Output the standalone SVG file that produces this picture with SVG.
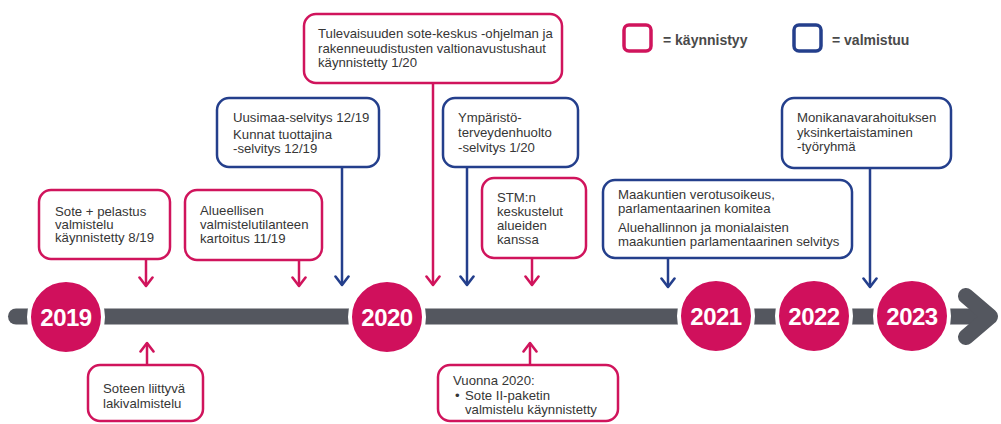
<svg xmlns="http://www.w3.org/2000/svg" width="1001" height="424" viewBox="0 0 1001 424">
<style>
  .bp { fill: #ffffff; stroke: #d0145c; stroke-width: 2.5; }
  .bb { fill: #ffffff; stroke: #243f8c; stroke-width: 2.5; }
  .t { font-family: "Liberation Sans", Arial, sans-serif; font-size: 13.2px; fill: #363636; }
  .yr { font-family: "Liberation Sans", Arial, sans-serif; font-size: 24px; font-weight: bold; fill: #ffffff; text-anchor: middle; letter-spacing: -0.5px; }
  .lg { font-family: "Liberation Sans", Arial, sans-serif; font-size: 14px; font-weight: bold; fill: #4a4a4a; }
  .cp { stroke: #d0145c; stroke-width: 2.5; fill: none; marker-end: url(#ap); }
  .cb { stroke: #243f8c; stroke-width: 2.5; fill: none; marker-end: url(#ab); }
  .yc { fill: #d0105c; stroke: #ffffff; stroke-width: 4; }
</style>
<defs>
  <marker id="ap" viewBox="0 0 12 16" refX="10" refY="8" markerWidth="12" markerHeight="16" markerUnits="userSpaceOnUse" orient="auto">
    <path d="M1.5,1.5 L10,8 L1.5,14.5" fill="none" stroke="#d0145c" stroke-width="2.6" stroke-linecap="round" stroke-linejoin="round"/>
  </marker>
  <marker id="ab" viewBox="0 0 12 16" refX="10" refY="8" markerWidth="12" markerHeight="16" markerUnits="userSpaceOnUse" orient="auto">
    <path d="M1.5,1.5 L10,8 L1.5,14.5" fill="none" stroke="#243f8c" stroke-width="2.6" stroke-linecap="round" stroke-linejoin="round"/>
  </marker>
</defs>
<rect width="1001" height="424" fill="#ffffff"/>

<g id="timeline">
  <line x1="16" y1="316.5" x2="985" y2="316.5" stroke="#54575f" stroke-width="16" stroke-linecap="round"/>
  <polyline points="966,296 990,316.5 966,337" fill="none" stroke="#54575f" stroke-width="16" stroke-linecap="round" stroke-linejoin="round"/>
</g>

<g id="connectors">
  <line class="cp" x1="146" y1="259" x2="146" y2="286"/>
  <line class="cp" x1="299" y1="260" x2="299" y2="286"/>
  <line class="cp" x1="147" y1="365" x2="147" y2="343"/>
  <line class="cb" x1="342" y1="167" x2="342" y2="285"/>
  <line class="cp" x1="433" y1="83" x2="433" y2="285"/>
  <line class="cb" x1="467" y1="167" x2="467" y2="285"/>
  <line class="cp" x1="532" y1="258" x2="532" y2="285"/>
  <line class="cp" x1="530" y1="365" x2="530" y2="343"/>
  <line class="cb" x1="668" y1="258" x2="668" y2="287"/>
  <line class="cb" x1="870" y1="168" x2="870" y2="287"/>
</g>

<g id="y2019"><circle class="yc" cx="66" cy="317" r="37"/><text class="yr" x="66" y="326">2019</text></g>
<g id="y2020"><circle class="yc" cx="387" cy="317" r="37"/><text class="yr" x="387" y="326">2020</text></g>
<g id="y2021"><circle class="yc" cx="716" cy="316" r="37"/><text class="yr" x="716" y="325">2021</text></g>
<g id="y2022"><circle class="yc" cx="814" cy="316" r="37"/><text class="yr" x="814" y="325">2022</text></g>
<g id="y2023"><circle class="yc" cx="912" cy="316" r="37"/><text class="yr" x="912" y="325">2023</text></g>

<g id="legend">
  <rect x="624" y="25" width="27" height="26" rx="5" fill="#ffffff" stroke="#d0145c" stroke-width="3.5"/>
  <text class="lg" x="663" y="45">= käynnistyy</text>
  <rect x="794" y="25" width="27" height="26" rx="5" fill="#ffffff" stroke="#243f8c" stroke-width="3.5"/>
  <text class="lg" x="832" y="45">= valmistuu</text>
</g>

<g id="n-sote-pelastus">
  <rect class="bp" x="39" y="190" width="131" height="69" rx="12"/>
  <text class="t" x="55" y="216">Sote + pelastus</text>
  <text class="t" x="55" y="229">valmistelu</text>
  <text class="t" x="55" y="242">käynnistetty 8/19</text>
</g>

<g id="n-alueellisen">
  <rect class="bp" x="185" y="190" width="137" height="70" rx="12"/>
  <text class="t" x="200" y="215">Alueellisen</text>
  <text class="t" x="200" y="229">valmistelutilanteen</text>
  <text class="t" x="200" y="243">kartoitus 11/19</text>
</g>

<g id="n-soteen">
  <rect class="bp" x="88" y="365" width="115" height="56" rx="12"/>
  <text class="t" x="103" y="393">Soteen liittyvä</text>
  <text class="t" x="103" y="408">lakivalmistelu</text>
</g>

<g id="n-uusimaa">
  <rect class="bb" x="217" y="98" width="162" height="69" rx="12"/>
  <text class="t" x="233" y="122">Uusimaa-selvitys 12/19</text>
  <text class="t" x="233" y="139">Kunnat tuottajina</text>
  <text class="t" x="233" y="153">-selvitys 12/19</text>
</g>

<g id="n-tulevaisuuden">
  <rect class="bp" x="304" y="14" width="258" height="69" rx="12"/>
  <text class="t" x="318" y="38">Tulevaisuuden sote-keskus -ohjelman ja</text>
  <text class="t" x="318" y="53">rakenneuudistusten valtionavustushaut</text>
  <text class="t" x="318" y="67">käynnistetty 1/20</text>
</g>

<g id="n-ymparisto">
  <rect class="bb" x="443" y="98" width="135" height="69" rx="12"/>
  <text class="t" x="458" y="122">Ympäristö-</text>
  <text class="t" x="458" y="137">terveydenhuolto</text>
  <text class="t" x="458" y="152">-selvitys 1/20</text>
</g>

<g id="n-stm">
  <rect class="bp" x="482" y="178" width="104" height="80" rx="12"/>
  <text class="t" x="497" y="202">STM:n</text>
  <text class="t" x="497" y="216">keskustelut</text>
  <text class="t" x="497" y="230">alueiden</text>
  <text class="t" x="497" y="244">kanssa</text>
</g>

<g id="n-vuonna">
  <rect class="bp" x="438" y="365" width="180" height="56" rx="12"/>
  <text class="t" x="453" y="385">Vuonna 2020:</text>
  <text class="t" x="455" y="400">•</text>
  <text class="t" x="465" y="400">Sote II-paketin</text>
  <text class="t" x="465" y="414">valmistelu käynnistetty</text>
</g>

<g id="n-maakuntien">
  <rect class="bb" x="603" y="180" width="249" height="78" rx="12"/>
  <text class="t" x="618" y="199">Maakuntien verotusoikeus,</text>
  <text class="t" x="618" y="213">parlamentaarinen komitea</text>
  <text class="t" x="618" y="232">Aluehallinnon ja monialaisten</text>
  <text class="t" x="618" y="246">maakuntien parlamentaarinen selvitys</text>
</g>

<g id="n-monikanava">
  <rect class="bb" x="782" y="98" width="169" height="70" rx="12"/>
  <text class="t" x="797" y="122">Monikanavarahoituksen</text>
  <text class="t" x="797" y="137">yksinkertaistaminen</text>
  <text class="t" x="797" y="151">-työryhmä</text>
</g>
</svg>
